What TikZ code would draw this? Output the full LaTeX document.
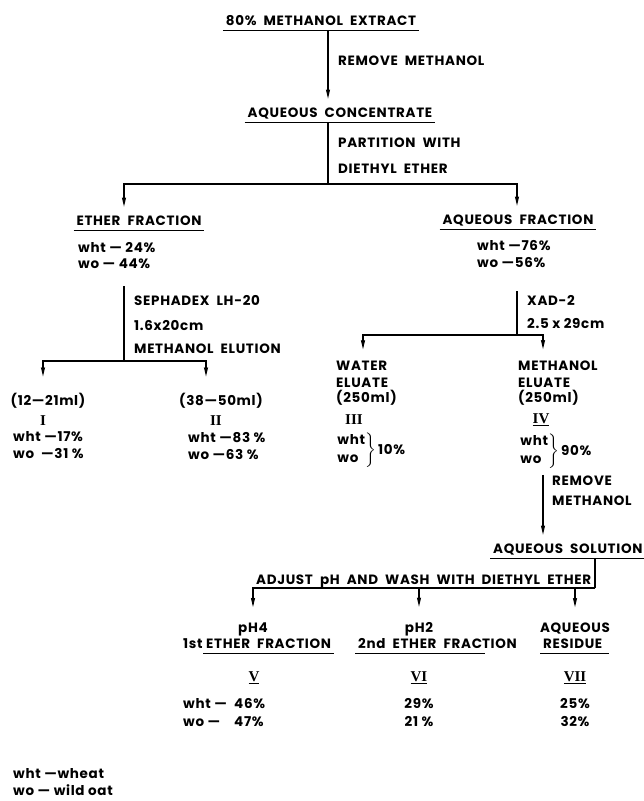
\documentclass[tikz,border=0pt]{standalone}
\usepackage{amsmath}
\usepackage{fontspec}
\setmainfont{Poppins}[LetterSpace=5]
\newfontfamily\romfont{Liberation Serif}
\usepackage{tikz}
\usetikzlibrary{arrows.meta,positioning}

% underline that sits a little below the text
\newcommand{\ulbar}[1]{\setbox0\hbox{#1}\rlap{\kern-3pt\rule[-5.5pt]{\dimexpr\wd0+6pt\relax}{0.9pt}}\box0}
% two stacked labels closed by a brace
\newcommand{\bracepair}[1]{$\left.\renewcommand{\arraystretch}{0.8}\begin{tabular}{@{}l@{}}wht\\[4pt]wo\end{tabular}\right\}$\,#1}

\begin{document}
\begin{tikzpicture}[x=1pt,y=-1pt,
        % define styles
        txt/.style={font=\fontsize{13.5}{17}\selectfont\bfseries, inner sep=0pt},
        lft/.style={txt, anchor=base west},
        mid/.style={txt, anchor=base},
        rom/.style={mid, font=\fontsize{15}{17}\selectfont\romfont\bfseries},
        wire/.style={line width=1.1pt},
        flow/.style={wire, -{Stealth[length=9pt,width=4pt,inset=0.5pt]}, shorten >=8.5pt}
    ]
        \useasboundingbox (0,0) rectangle (643,801);

        % top of the scheme
        \node[mid] (extract) at (321,25) {\ulbar{80\%\ \ METHANOL\ \ EXTRACT}};
        \node[lft] (rmeth) at (338,65) {REMOVE\ \ METHANOL};
        \node[mid] (concentrate) at (340,117) {\ulbar{AQUEOUS\ \ CONCENTRATE}};
        \node[lft] (partition) at (338,147) {PARTITION\ \ WITH};
        \node[lft] (diethyl) at (338,173) {DIETHYL\ \ ETHER};

        % ether side
        \node[mid] (ether) at (139,225) {\ulbar{ETHER\ \ FRACTION}};
        \node[lft] (etherwht) at (78,252) {wht — 24\%};
        \node[lft] (etherwo) at (78,268) {wo — 44\%};
        \node[lft] (sephadex) at (134,305) {SEPHADEX\ \ LH-20};
        \node[lft] (sephsize) at (134,330) {1.6x20cm};
        \node[lft] (elution) at (134,353) {METHANOL\ \ ELUTION};

        \node[mid] (frI) at (48,405) {(12—21ml)};
        \node[rom] (numI) at (43,425) {I};
        \node[lft] (Iwht) at (13,441) {wht —17\%};
        \node[lft] (Iwo) at (13,458) {wo\ \ —31 \%};
        \node[mid] (frII) at (221,405) {(38—50ml)};
        \node[rom] (numII) at (216,425) {II};
        \node[lft] (IIwht) at (188,442) {wht —83 \%};
        \node[lft] (IIwo) at (188,459) {wo —63 \%};

        % aqueous side
        \node[mid] (aqfrac) at (518,224) {\ulbar{AQUEOUS\ \ FRACTION}};
        \node[lft] (aqwht) at (477,250) {wht —76\%};
        \node[lft] (aqwo) at (477,267) {wo —56\%};
        \node[lft] (xad) at (527,305) {XAD-2};
        \node[lft] (xadsize) at (527,328) {2.5 x 29cm};

        \node[lft] (water) at (336,370) {WATER};
        \node[lft] (watereluate) at (336,387) {ELUATE};
        \node[lft] (watervol) at (336,402) {(250ml)};
        \node[rom] (numIII) at (354,424) {III};
        \node[lft] (IIIpct) at (336,454) {\bracepair{10\%}};

        \node[lft] (meth) at (518,370) {METHANOL};
        \node[lft] (metheluate) at (518,387) {ELUATE};
        \node[lft] (methvol) at (518,402) {(250ml)};
        \node[rom] (numIV) at (541,423) {\underline{IV}};
        \node[lft] (IVpct) at (519,455) {\bracepair{90\%}};

        \node[lft] (rmeth2) at (552,485) {REMOVE};
        \node[lft] (rmeth2b) at (552,505) {METHANOL};
        \node[lft] (aqsol) at (493,553) {\ulbar{AQUEOUS\ \ SOLUTION}};
        \node[lft] (adjust) at (256,584) {ADJUST\ \ pH\ \ AND\ \ WASH\ \ WITH\ \ DIETHYL\ \ ETHER};

        % last split
        \node[mid] (ph4) at (253,632) {pH4};
        \node[mid] (ph2) at (419,632) {pH2};
        \node[mid] (aqres) at (575,632) {AQUEOUS};
        \node[lft] (first) at (183,648) {1st\ \ulbar{ETHER\ \ FRACTION}};
        \node[lft] (second) at (358,648) {\ulbar{2nd\ \ ETHER\ \ FRAC}TION};
        \node[lft] (residue) at (543,648) {\ulbar{RESIDUE\ }};
        \node[rom] (numV) at (254,681) {\underline{V}};
        \node[rom] (numVI) at (419,681) {\underline{VI}};
        \node[rom] (numVII) at (575,681) {\underline{VII}};
        \node[lft] (Vwht) at (183,708) {wht —};
        \node[lft] (Vwo) at (183,726) {wo —};
        \node[lft] (Vwhtp) at (234,708) {46\%};
        \node[lft] (Vwop) at (234,726) {47\%};
        \node[mid] (VIwhtp) at (419,708) {29\%};
        \node[mid] (VIwop) at (419,726) {21 \%};
        \node[mid] (VIIwhtp) at (575,708) {25\%};
        \node[mid] (VIIwop) at (575,726) {32\%};

        % key
        \node[lft] (legwht) at (13,778) {wht —wheat};
        \node[lft] (legwo) at (13,795) {wo — wild oat};

        % branch points
        \coordinate (a) at (328,184);
        \coordinate (b) at (124,361);
        \coordinate (bL) at (43,0);
        \coordinate (bR) at (206,0);
        \coordinate (c) at (517,335);
        \coordinate (cL) at (363,0);
        \coordinate (cR) at (543,0);
        \coordinate (d) at (595,588);

        \draw[flow] (extract.south -| a) -- (concentrate.north -| a);
        \draw[wire] (concentrate.south -| a) -- (a);
        \draw[flow] (a) -| (ether.north -| b);
        \draw[flow] (a) -| (aqfrac.north -| c);

        \draw[wire] (etherwo.south -| b) ++(0,18) -- (b);
        \draw[flow, shorten >=16pt] (b) -| (frI.north -| bL);
        \draw[flow, shorten >=16pt] (b) -| (frII.north -| bR);

        \draw[wire] (aqwo.south -| c) ++(0,24) -- (c);
        \draw[flow, shorten >=11pt] (c) -| (water.north -| cL);
        \draw[flow, shorten >=11pt] (c) -| (meth.north -| cR);

        \draw[flow] (IVpct.south -| cR) ++(0,6) -- (aqsol.north -| cR);
        \draw[wire] (aqsol.south -| d) -- (d);
        \draw[flow, shorten >=15pt] (d) -| (ph4.north);
        \draw[flow, shorten >=15pt] (d) -| (ph2.north);
        \draw[flow, shorten >=15pt] (d) -| (aqres.north);
    \end{tikzpicture}
\end{document}
